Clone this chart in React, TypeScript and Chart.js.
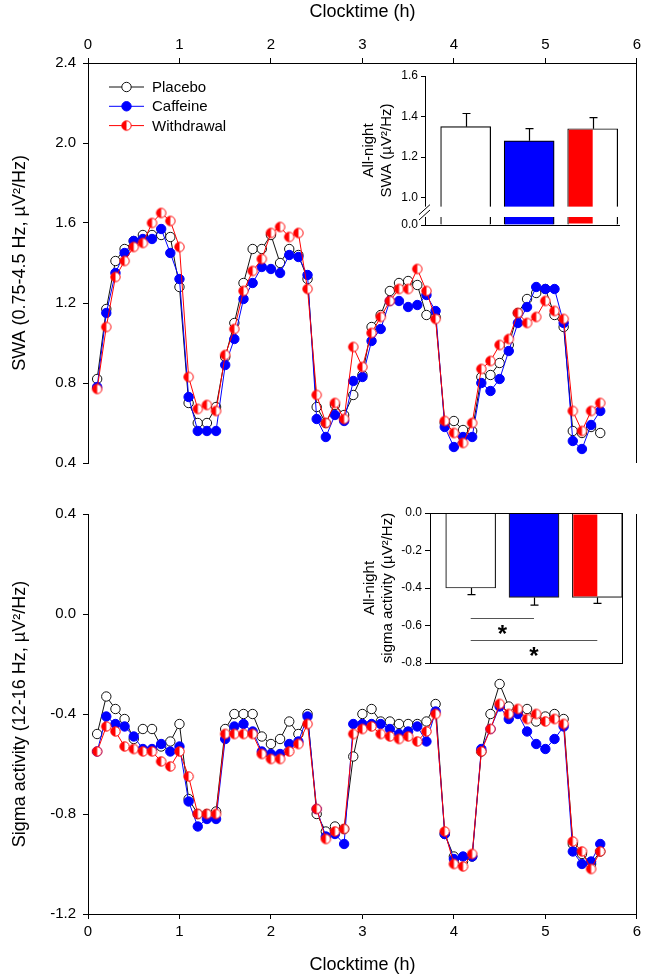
import React, { useEffect, useRef } from 'react';
import { Chart, registerables } from 'chart.js';

Chart.register(...registerables);

const FONT = '"Liberation Sans", Arial, Helvetica, sans-serif';

// ---------------- data ----------------
const TIME = [
  0.1, 0.2, 0.3, 0.4, 0.5, 0.6, 0.7, 0.8, 0.9, 1.0,
  1.1, 1.2, 1.3, 1.4, 1.5, 1.6, 1.7, 1.8, 1.9, 2.0,
  2.1, 2.2, 2.3, 2.4, 2.5, 2.6, 2.7, 2.8, 2.9, 3.0,
  3.1, 3.2, 3.3, 3.4, 3.5, 3.6, 3.7, 3.8, 3.9, 4.0,
  4.1, 4.2, 4.3, 4.4, 4.5, 4.6, 4.7, 4.8, 4.9, 5.0,
  5.1, 5.2, 5.3, 5.4, 5.5, 5.6,
];

const SWA_PLACEBO = [
  0.82, 1.17, 1.41, 1.47, 1.51, 1.54, 1.54, 1.54, 1.53, 1.28,
  0.70, 0.60, 0.60, 0.68, 0.93, 1.10, 1.30, 1.47, 1.47, 1.54,
  1.40, 1.47, 1.44, 1.32, 0.68, 0.60, 0.69, 0.64, 0.74, 0.84,
  1.08, 1.14, 1.26, 1.30, 1.31, 1.29, 1.14, 1.13, 0.60, 0.61,
  0.565, 0.56, 0.83, 0.84, 0.90, 0.99, 1.15, 1.22, 1.25, 1.27,
  1.14, 1.08, 0.56, 0.55, 0.58, 0.55,
];
const SWA_CAFFEINE = [
  0.78, 1.15, 1.35, 1.45, 1.51, 1.52, 1.52, 1.57, 1.45, 1.32,
  0.73, 0.56, 0.56, 0.56, 0.89, 1.02, 1.22, 1.30, 1.38, 1.37,
  1.35, 1.44, 1.43, 1.34, 0.62, 0.53, 0.64, 0.61, 0.81, 0.83,
  1.01, 1.07, 1.21, 1.21, 1.18, 1.19, 1.24, 1.16, 0.58, 0.48,
  0.53, 0.53, 0.80, 0.76, 0.82, 0.96, 1.10, 1.18, 1.28, 1.27,
  1.27, 1.10, 0.51, 0.47, 0.59, 0.66,
];
const SWA_WITHDRAWAL = [
  0.77, 1.08, 1.33, 1.41, 1.48, 1.50, 1.60, 1.65, 1.61, 1.48,
  0.83, 0.67, 0.69, 0.66, 0.94, 1.07, 1.26, 1.36, 1.42, 1.55,
  1.58, 1.53, 1.55, 1.27, 0.74, 0.60, 0.70, 0.62, 0.98, 0.88,
  1.05, 1.13, 1.21, 1.27, 1.27, 1.37, 1.26, 1.12, 0.61, 0.55,
  0.50, 0.60, 0.87, 0.91, 0.99, 1.02, 1.15, 1.10, 1.13, 1.21,
  1.16, 1.12, 0.66, 0.56, 0.66, 0.70,
];

const SIG_PLACEBO = [
  -0.48, -0.33, -0.38, -0.42, -0.50, -0.46, -0.46, -0.53, -0.51, -0.44,
  -0.74, -0.80, -0.80, -0.79, -0.46, -0.40, -0.40, -0.40, -0.49, -0.52,
  -0.50, -0.43, -0.48, -0.40, -0.80, -0.87, -0.85, -0.86, -0.57, -0.40,
  -0.38, -0.43, -0.43, -0.44, -0.44, -0.44, -0.43, -0.36, -0.88, -0.97,
  -0.99, -0.97, -0.55, -0.40, -0.28, -0.37, -0.39, -0.38, -0.43, -0.41,
  -0.40, -0.42, -0.92, -0.96, -1.00, -0.95,
];
const SIG_CAFFEINE = [
  -0.55, -0.41, -0.44, -0.45, -0.49, -0.54, -0.54, -0.52, -0.55, -0.53,
  -0.75, -0.85, -0.82, -0.82, -0.50, -0.45, -0.44, -0.47, -0.55, -0.56,
  -0.56, -0.52, -0.51, -0.41, -0.78, -0.89, -0.88, -0.92, -0.44, -0.44,
  -0.44, -0.44, -0.46, -0.48, -0.47, -0.45, -0.51, -0.39, -0.88, -0.98,
  -0.97, -0.97, -0.54, -0.46, -0.37, -0.42, -0.40, -0.47, -0.52, -0.54,
  -0.50, -0.45, -0.95, -1.00, -0.99, -0.92,
];
const SIG_WITHDRAWAL = [
  -0.55, -0.45, -0.47, -0.53, -0.54, -0.55, -0.55, -0.59, -0.61, -0.55,
  -0.65, -0.80, -0.80, -0.80, -0.48, -0.48, -0.48, -0.48, -0.56, -0.58,
  -0.58, -0.55, -0.52, -0.44, -0.78, -0.90, -0.87, -0.86, -0.48, -0.46,
  -0.45, -0.48, -0.49, -0.50, -0.49, -0.51, -0.47, -0.40, -0.87, -1.00,
  -1.01, -0.96, -0.55, -0.46, -0.36, -0.40, -0.38, -0.42, -0.40, -0.43,
  -0.42, -0.44, -0.91, -0.95, -1.02, -0.95,
];

const SERIES_LABELS = ['Placebo', 'Caffeine', 'Withdrawal'];
const BAR_POS = [1, 2, 3];

const SWA_BAR = [1.35, 1.28, 1.34];
const SWA_BAR_ERR = [0.065, 0.06, 0.055];
const SWA_BAR_TICKS = [1.0, 1.2, 1.4, 1.6];
const SWA_BAR_BREAK_LABEL = '0.0';

const SIG_BAR = [-0.40, -0.45, -0.45];
const SIG_BAR_ERR = [0.035, 0.041, 0.032];
const SIG_SIGNIF = [
  { from: 1, to: 2, line: -0.562, star: -0.616 },
  { from: 1, to: 3, line: -0.678, star: -0.736 },
];

const TITLE_X = 'Clocktime (h)';
const TITLE_SWA = 'SWA (0.75-4.5 Hz, µV²/Hz)';
const TITLE_SIG = 'Sigma activity (12-16 Hz, µV²/Hz)';
const TITLE_SWA_BAR = ['All-night', 'SWA (µV²/Hz)'];
const TITLE_SIG_BAR = ['All-night', 'sigma activity (µV²/Hz)'];

const COLORS = { placebo: '#111111', caffeine: '#0000ff', withdrawal: '#ff0000' };

// ---------------- helpers ----------------
const MARK_R = 4.7;

function makeHalfMarker(r: number): HTMLCanvasElement {
  const size = Math.ceil(r * 2 + 3);
  const c = document.createElement('canvas');
  c.width = size;
  c.height = size;
  const ctx = c.getContext('2d')!;
  const cx = size / 2;
  const cy = size / 2;
  ctx.beginPath();
  ctx.arc(cx, cy, r, 0, Math.PI * 2);
  ctx.fillStyle = '#ffffff';
  ctx.fill();
  ctx.beginPath();
  ctx.moveTo(cx, cy - r);
  ctx.arc(cx, cy, r, -Math.PI / 2, Math.PI / 2, true);
  ctx.closePath();
  ctx.fillStyle = COLORS.withdrawal;
  ctx.fill();
  ctx.beginPath();
  ctx.arc(cx, cy, r, 0, Math.PI * 2);
  ctx.strokeStyle = COLORS.withdrawal;
  ctx.lineWidth = 1;
  ctx.stroke();
  return c;
}

function buildLineDatasets(p: number[], c: number[], w: number[], half: HTMLCanvasElement) {
  const pts = (arr: number[]) => TIME.map((t, i) => ({ x: t, y: arr[i] }));
  return [
    {
      label: SERIES_LABELS[0], data: pts(p), order: 3,
      borderColor: COLORS.placebo, borderWidth: 1,
      pointRadius: MARK_R, pointBorderWidth: 1,
      pointBackgroundColor: '#ffffff', pointBorderColor: COLORS.placebo,
    },
    {
      label: SERIES_LABELS[1], data: pts(c), order: 2,
      borderColor: COLORS.caffeine, borderWidth: 1,
      pointRadius: MARK_R, pointBorderWidth: 1,
      pointBackgroundColor: COLORS.caffeine, pointBorderColor: COLORS.caffeine,
    },
    {
      label: SERIES_LABELS[2], data: pts(w), order: 1,
      borderColor: COLORS.withdrawal, borderWidth: 1,
      pointRadius: MARK_R, pointStyle: half,
      pointBackgroundColor: COLORS.withdrawal, pointBorderColor: COLORS.withdrawal,
    },
  ];
}

const axisCommon = () => ({
  grid: { display: true, drawOnChartArea: false, drawTicks: true, tickLength: 5, color: '#000', lineWidth: 1 },
  border: { display: true, color: '#000', width: 1 },
});

const rightBorderPlugin = {
  id: 'rightBorder',
  afterDraw(chart: any) {
    const { ctx, chartArea } = chart;
    ctx.save();
    ctx.strokeStyle = '#000';
    ctx.lineWidth = 1;
    ctx.beginPath();
    const x = Math.round(chartArea.right) - 0.5;
    ctx.moveTo(x, chartArea.top);
    ctx.lineTo(x, chartArea.bottom);
    ctx.stroke();
    ctx.restore();
  },
};

function drawLegend(chart: any, half: HTMLCanvasElement) {
  const ctx = chart.ctx;
  const y0 = 87;
  const dy = 19.3;
  const colors = [COLORS.placebo, COLORS.caffeine, COLORS.withdrawal];
  ctx.save();
  SERIES_LABELS.forEach((lab, i) => {
    const y = y0 + i * dy;
    ctx.strokeStyle = colors[i];
    ctx.lineWidth = 1;
    ctx.beginPath();
    ctx.moveTo(109, y);
    ctx.lineTo(144, y);
    ctx.stroke();
    if (i === 2) {
      ctx.drawImage(half, 126.5 - half.width / 2, y - half.height / 2);
    } else {
      ctx.beginPath();
      ctx.arc(126.5, y, MARK_R, 0, Math.PI * 2);
      ctx.fillStyle = i === 0 ? '#ffffff' : COLORS.caffeine;
      ctx.fill();
      ctx.strokeStyle = colors[i];
      ctx.stroke();
    }
    ctx.fillStyle = '#000';
    ctx.font = `15px ${FONT}`;
    ctx.textAlign = 'left';
    ctx.textBaseline = 'middle';
    ctx.fillText(lab, 152, y + 1);
  });
  ctx.restore();
}

function barDecor(chart: any, errs: number[], vals: number[], dir: number) {
  const { ctx, chartArea } = chart;
  const xs = chart.scales.x;
  const ys = chart.scales.y;
  ctx.save();
  // red left half of the third bar
  const el = chart.getDatasetMeta(0).data[2];
  if (el) {
    const { x, y, base, width } = el.getProps(['x', 'y', 'base', 'width'], true);
    const top = Math.max(chartArea.top, Math.min(y, base));
    const bot = Math.min(chartArea.bottom, Math.max(y, base));
    ctx.fillStyle = COLORS.withdrawal;
    ctx.fillRect(x - width / 2 + 1, top + 1, width / 2 - 1, bot - top - 2);
  }
  // error bars
  ctx.strokeStyle = '#000';
  ctx.lineWidth = 1.2;
  vals.forEach((v, i) => {
    const px = Math.round(xs.getPixelForValue(BAR_POS[i])) + 0.5;
    const y1 = ys.getPixelForValue(v);
    const y2 = ys.getPixelForValue(v + dir * errs[i]);
    ctx.beginPath();
    ctx.moveTo(px, y1);
    ctx.lineTo(px, y2);
    ctx.moveTo(px - 4, y2);
    ctx.lineTo(px + 4, y2);
    ctx.stroke();
  });
  ctx.restore();
}

// ---------------- component ----------------
export default function App() {
  const topRef = useRef<HTMLCanvasElement>(null);
  const botRef = useRef<HTMLCanvasElement>(null);
  const inTopRef = useRef<HTMLCanvasElement>(null);
  const inBotRef = useRef<HTMLCanvasElement>(null);

  useEffect(() => {
    Chart.defaults.font.family = FONT;
    Chart.defaults.color = '#000';
    const half = makeHalfMarker(MARK_R);
    const charts: Chart[] = [];

    // ---------- top panel (SWA) ----------
    charts.push(new Chart(topRef.current!, {
      type: 'line',
      data: { datasets: buildLineDatasets(SWA_PLACEBO, SWA_CAFFEINE, SWA_WITHDRAWAL, half) as any },
      options: {
        animation: false, responsive: false, maintainAspectRatio: false,
        layout: { padding: { left: 0, right: 7, top: 0, bottom: 27 } },
        plugins: { legend: { display: false }, tooltip: { enabled: false } },
        scales: {
          x: {
            type: 'linear', position: 'top', min: 0, max: 6,
            ...axisCommon(),
            ticks: { color: '#000', font: { family: FONT, size: 15 }, stepSize: 1, padding: 4 },
            title: { display: true, text: TITLE_X, color: '#000', font: { family: FONT, size: 18 }, padding: { top: 1, bottom: 0 } },
            afterFit: (s: any) => { s.height = 63; },
          },
          y: {
            type: 'linear', min: 0.4, max: 2.4,
            ...axisCommon(),
            ticks: { color: '#000', font: { family: FONT, size: 15 }, stepSize: 0.4, padding: 7, callback: (v: any) => Number(v).toFixed(1) },
            title: { display: true, text: TITLE_SWA, color: '#000', font: { family: FONT, size: 18 }, padding: { top: 9, bottom: 0 } },
            afterFit: (s: any) => { s.width = 88; },
          },
        },
      },
      plugins: [rightBorderPlugin, { id: 'legendDraw', afterDraw: (c: any) => drawLegend(c, half) }],
    } as any));

    // ---------- bottom panel (sigma) ----------
    charts.push(new Chart(botRef.current!, {
      type: 'line',
      data: { datasets: buildLineDatasets(SIG_PLACEBO, SIG_CAFFEINE, SIG_WITHDRAWAL, half) as any },
      options: {
        animation: false, responsive: false, maintainAspectRatio: false,
        layout: { padding: { left: 0, right: 7, top: 24, bottom: 0 } },
        plugins: { legend: { display: false }, tooltip: { enabled: false } },
        scales: {
          x: {
            type: 'linear', position: 'bottom', min: 0, max: 6,
            ...axisCommon(),
            ticks: { color: '#000', font: { family: FONT, size: 15 }, stepSize: 1, padding: 4 },
            title: { display: true, text: TITLE_X, color: '#000', font: { family: FONT, size: 18 }, padding: { top: 0, bottom: 1 } },
            afterFit: (s: any) => { s.height = 63; },
          },
          y: {
            type: 'linear', min: -1.2, max: 0.4,
            ...axisCommon(),
            ticks: { color: '#000', font: { family: FONT, size: 15 }, stepSize: 0.4, padding: 7, callback: (v: any) => Number(v).toFixed(1) },
            title: { display: true, text: TITLE_SIG, color: '#000', font: { family: FONT, size: 18 }, padding: { top: 9, bottom: 0 } },
            afterFit: (s: any) => { s.width = 88; },
          },
        },
      },
      plugins: [rightBorderPlugin],
    } as any));

    // ---------- top inset (all-night SWA) ----------
    const SWA_BASE = 0.865;
    charts.push(new Chart(inTopRef.current!, {
      type: 'bar',
      data: {
        datasets: [{
          data: BAR_POS.map((p, i) => ({ x: p, y: SWA_BAR[i] })),
          base: SWA_BASE,
          backgroundColor: ['#ffffff', COLORS.caffeine, '#ffffff'],
          borderColor: '#000', borderWidth: 1.2, barThickness: 50,
        }],
      },
      options: {
        animation: false, responsive: false, maintainAspectRatio: false,
        layout: { padding: { left: 0, right: 10, top: 16, bottom: 20 } },
        plugins: { legend: { display: false }, tooltip: { enabled: false } },
        scales: {
          x: { type: 'linear', display: false, offset: false, min: 0.36, max: 3.43 },
          y: {
            type: 'linear', min: SWA_BASE, max: 1.6,
            grid: { display: true, drawOnChartArea: false, drawTicks: true, tickLength: 4, color: '#000' },
            border: { display: true, color: '#000', width: 1 },
            ticks: { color: '#000', font: { family: FONT, size: 12 }, padding: 3,
              callback: (v: any) => (Number(v) < 0.9 ? SWA_BAR_BREAK_LABEL : Number(v).toFixed(1)) },
            afterBuildTicks: (s: any) => { s.ticks = [SWA_BASE, ...SWA_BAR_TICKS].map((v) => ({ value: v })); },
            title: { display: true, text: TITLE_SWA_BAR, color: '#000', font: { family: FONT, size: 15, lineHeight: 1.25 }, padding: { top: 29, bottom: 0 } },
            afterFit: (s: any) => { s.width = 95; },
          },
        },
      },
      plugins: [{
        id: 'swaBarDecor',
        afterDatasetsDraw(chart: any) {
          barDecor(chart, SWA_BAR_ERR, SWA_BAR, 1);
          const { ctx, chartArea } = chart;
          const ys = chart.scales.y;
          const yb = chartArea.bottom;
          ctx.save();
          // baseline
          ctx.strokeStyle = '#000';
          ctx.lineWidth = 1.2;
          ctx.beginPath();
          ctx.moveTo(chartArea.left - 3, Math.round(yb) + 0.5);
          ctx.lineTo(chartArea.right, Math.round(yb) + 0.5);
          ctx.stroke();
          // axis break
          const yTop = ys.getPixelForValue(1.0) + 9;
          const yBot = yb - 8;
          ctx.fillStyle = '#ffffff';
          ctx.fillRect(chartArea.left - 2, yTop, chartArea.right - chartArea.left + 4, yBot - yTop);
          ctx.lineWidth = 1;
          ctx.beginPath();
          ctx.moveTo(chartArea.left - 6, yTop + 8);
          ctx.lineTo(chartArea.left + 5, yTop - 2);
          ctx.moveTo(chartArea.left - 6, yBot + 3);
          ctx.lineTo(chartArea.left + 5, yBot - 7);
          ctx.stroke();
          ctx.restore();
        },
      }],
    } as any));

    // ---------- bottom inset (all-night sigma) ----------
    charts.push(new Chart(inBotRef.current!, {
      type: 'bar',
      data: {
        datasets: [{
          data: BAR_POS.map((p, i) => ({ x: p, y: SIG_BAR[i] })),
          base: 0,
          backgroundColor: ['#ffffff', COLORS.caffeine, '#ffffff'],
          borderColor: '#222', borderWidth: 1.2, barThickness: 50,
        }],
      },
      options: {
        animation: false, responsive: false, maintainAspectRatio: false,
        layout: { padding: { left: 0, right: 18, top: 18, bottom: 22 } },
        plugins: { legend: { display: false }, tooltip: { enabled: false } },
        scales: {
          x: { type: 'linear', display: false, offset: false, min: 0.357, max: 3.39 },
          y: {
            type: 'linear', min: -0.8, max: 0,
            grid: { display: true, drawOnChartArea: false, drawTicks: true, tickLength: 5, color: '#000' },
            border: { display: true, color: '#000', width: 1 },
            ticks: { color: '#000', font: { family: FONT, size: 12 }, padding: 3, stepSize: 0.2,
              callback: (v: any) => Number(v).toFixed(1) },
            title: { display: true, text: TITLE_SIG_BAR, color: '#000', font: { family: FONT, size: 15, lineHeight: 1.2 }, padding: { top: 31, bottom: 0 } },
            afterFit: (s: any) => { s.width = 100; },
          },
        },
      },
      plugins: [{
        id: 'sigBarDecor',
        afterDatasetsDraw(chart: any) {
          barDecor(chart, SIG_BAR_ERR, SIG_BAR, -1);
          const { ctx, chartArea } = chart;
          const xs = chart.scales.x;
          const ys = chart.scales.y;
          ctx.save();
          ctx.strokeStyle = '#000';
          ctx.lineWidth = 1;
          ctx.strokeRect(Math.round(chartArea.left) + 0.5, Math.round(chartArea.top) + 0.5,
            Math.round(chartArea.right - chartArea.left), Math.round(chartArea.bottom - chartArea.top));
          ctx.strokeStyle = '#555';
          SIG_SIGNIF.forEach((s) => {
            const x1 = xs.getPixelForValue(s.from);
            const x2 = xs.getPixelForValue(s.to);
            const yl = Math.round(ys.getPixelForValue(s.line)) + 0.5;
            ctx.beginPath();
            ctx.moveTo(x1, yl);
            ctx.lineTo(x2, yl);
            ctx.stroke();
            ctx.fillStyle = '#000';
            ctx.font = `bold 24px ${FONT}`;
            ctx.textAlign = 'center';
            ctx.textBaseline = 'alphabetic';
            ctx.fillText('*', (x1 + x2) / 2, ys.getPixelForValue(s.star) + 13);
          });
          ctx.restore();
        },
      }],
    } as any));

    return () => { charts.forEach((c) => c.destroy()); };
  }, []);

  return (
    <div style={{ position: 'absolute', left: 0, top: 0, width: 645, height: 977, background: '#fff', overflow: 'hidden' }}>
      <canvas ref={topRef} width={645} height={490} style={{ position: 'absolute', left: 0, top: 0 }} />
      <canvas ref={botRef} width={645} height={487} style={{ position: 'absolute', left: 0, top: 490 }} />
      <canvas ref={inTopRef} width={300} height={185} style={{ position: 'absolute', left: 330, top: 60 }} />
      <canvas ref={inBotRef} width={310} height={190} style={{ position: 'absolute', left: 330, top: 495 }} />
    </div>
  );
}
